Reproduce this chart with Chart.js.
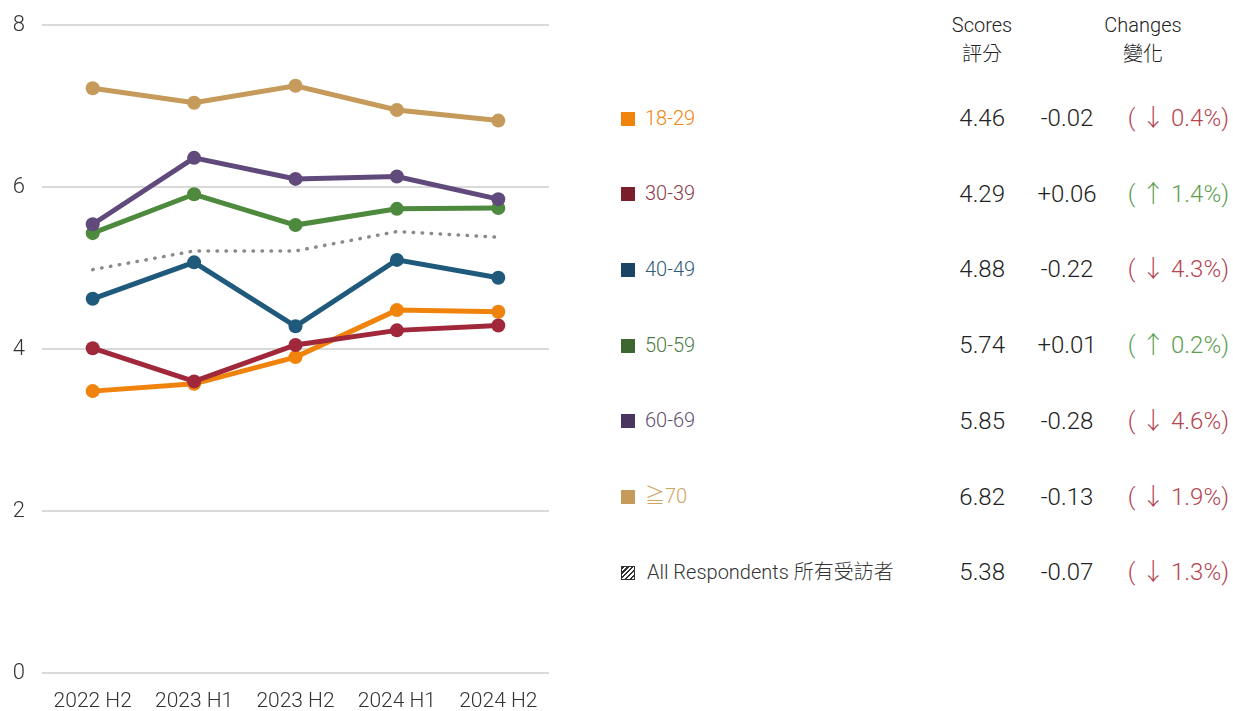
<!DOCTYPE html>
<html>
<head>
<meta charset="utf-8">
<script src="https://cdn.jsdelivr.net/npm/chart.js@4"></script>
<style>
  html, body { margin:0; padding:0; background:#fff; }
  body { width:1233px; height:711px; position:relative; overflow:hidden;
         font-family: Roboto, "Noto Sans CJK TC", sans-serif; font-weight:300; color:#222; }
  #wrap { position:absolute; left:0; top:0; width:560px; height:711px; }
  .t { position:absolute; white-space:nowrap; line-height:1; font-size:24px; }
  .hdr { position:absolute; white-space:nowrap; line-height:1; font-size:20px; text-align:center; width:120px; }
  .sq { position:absolute; width:14px; height:14px; }
</style>
</head>
<body>
<div id="wrap"><canvas id="c"></canvas></div>
<div id="table"></div>
<script>
const categories = ['2022 H2', '2023 H1', '2023 H2', '2024 H1', '2024 H2'];
const yTicks = [0, 2, 4, 6, 8];

const age18to29 = [3.48, 3.57, 3.90, 4.48, 4.46];
const age30to39 = [4.01, 3.60, 4.05, 4.23, 4.29];
const age40to49 = [4.62, 5.07, 4.28, 5.10, 4.88];
const age50to59 = [5.43, 5.91, 5.53, 5.73, 5.74];
const age60to69 = [5.54, 6.36, 6.10, 6.13, 5.85];
const age70plus = [7.22, 7.04, 7.25, 6.95, 6.82];
const allRespondents = [4.98, 5.21, 5.21, 5.45, 5.38];

const seriesNames = ['18-29', '30-39', '40-49', '50-59', '60-69', '≧70', 'All Respondents 所有受訪者'];
const scoreLabels = ['4.46', '4.29', '4.88', '5.74', '5.85', '6.82', '5.38'];
const changeLabels = ['-0.02', '+0.06', '-0.22', '+0.01', '-0.28', '-0.13', '-0.07'];
const pctLabels = ['0.4%', '1.4%', '4.3%', '0.2%', '4.6%', '1.9%', '1.3%'];

const lineColors = ['#F0830C', '#A0283A', '#1F5A7C', '#4E8A3E', '#604A7C', '#C69A5A', '#8A8A8A'];
const squareColors = ['#F0830C', '#7A1E2B', '#1B4464', '#3E6630', '#4A3560', '#C69A5A', null];
const textColors = ['#F0830C', '#8E3A46', '#2F5A78', '#4F7D47', '#5E4E70', '#D0A264', '#333'];

const seriesData = [age18to29, age30to39, age40to49, age50to59, age60to69, age70plus, allRespondents];
const drawOrder = [3, 2, 4, 5, 4, 6, 7];

const datasets = seriesData.map((d, i) => {
  const dotted = i === 6;
  return {
    label: seriesNames[i],
    data: d,
    borderColor: lineColors[i],
    backgroundColor: lineColors[i],
    borderWidth: dotted ? 3.5 : 5,
    borderDash: dotted ? [0.5, 8.5] : [],
    borderCapStyle: dotted ? 'round' : 'butt',
    pointRadius: dotted ? 0 : 7,
    pointHoverRadius: dotted ? 0 : 7,
    pointBorderWidth: 0,
    tension: 0,
    order: drawOrder[i]
  };
});

new Chart(document.getElementById('c'), {
  type: 'line',
  data: { labels: categories, datasets },
  options: {
    responsive: true,
    maintainAspectRatio: false,
    animation: false,
    layout: { padding: { top: 25, right: 11, left: 0, bottom: 0 } },
    plugins: { legend: { display: false }, tooltip: { enabled: false } },
    scales: {
      x: {
        offset: true,
        grid: { display: false, drawTicks: false },
        border: { display: false },
        ticks: { color: '#333', font: { family: 'Roboto', size: 21, weight: 300 }, padding: 16, maxRotation: 0 },
        afterFit: s => { s.height = 38; s.paddingLeft = 0; s.paddingRight = 0; }
      },
      y: {
        min: 0, max: 8,
        afterBuildTicks: s => { s.ticks = yTicks.map(v => ({ value: v })); },
        grid: { color: '#d9d9d9', lineWidth: 2, drawTicks: false },
        border: { display: false },
        ticks: { color: '#333', font: { family: 'Roboto', size: 22, weight: 300 }, padding: 17 },
        afterFit: s => { s.width = 42; s.paddingTop = 0; s.paddingBottom = 0; }
      }
    }
  }
});

// table on the right
const tbl = document.getElementById('table');
function add(cls, html, style) {
  const el = document.createElement('div');
  el.className = cls;
  el.innerHTML = html;
  Object.assign(el.style, style);
  tbl.appendChild(el);
  return el;
}
add('hdr', 'Scores', { left: '922px', top: '15px' });
add('hdr', '評分', { left: '922px', top: '44px' });
add('hdr', 'Changes', { left: '1083px', top: '15px' });
add('hdr', '變化', { left: '1083px', top: '44px' });

const rowTop = 118.5, rowStep = 75.7;
seriesNames.forEach((name, i) => {
  const cy = rowTop + i * rowStep;
  if (squareColors[i]) {
    add('sq', '', { left: '621px', top: (cy - 7) + 'px', background: squareColors[i] });
  } else {
    add('sq', '', { left: '621px', top: (cy - 7) + 'px', width: '12px', height: '12px', border: '1px solid #333',
      background: 'repeating-linear-gradient(135deg, #333 0 1.6px, #fff 1.6px 3.4px)' });
  }
  add('t', name, { left: (i === 6 ? 647 : 645) + 'px', top: (cy - 11) + 'px', color: textColors[i], fontSize: '20px' });
  add('t', scoreLabels[i], { left: '905px', width: '100px', textAlign: 'right', top: (cy - 12.5) + 'px' });
  add('t', changeLabels[i], { left: '1017px', width: '100px', textAlign: 'center', top: (cy - 12.5) + 'px' });
  const up = changeLabels[i].startsWith('+');
  add('t', '( ' + (up ? '↑' : '↓') + ' ' + pctLabels[i] + ')', {
    left: '1079px', width: '150px', textAlign: 'right', top: (cy - 12.5) + 'px',
    color: up ? '#5E9E50' : '#B5444F' });
});
</script>
</body>
</html>
